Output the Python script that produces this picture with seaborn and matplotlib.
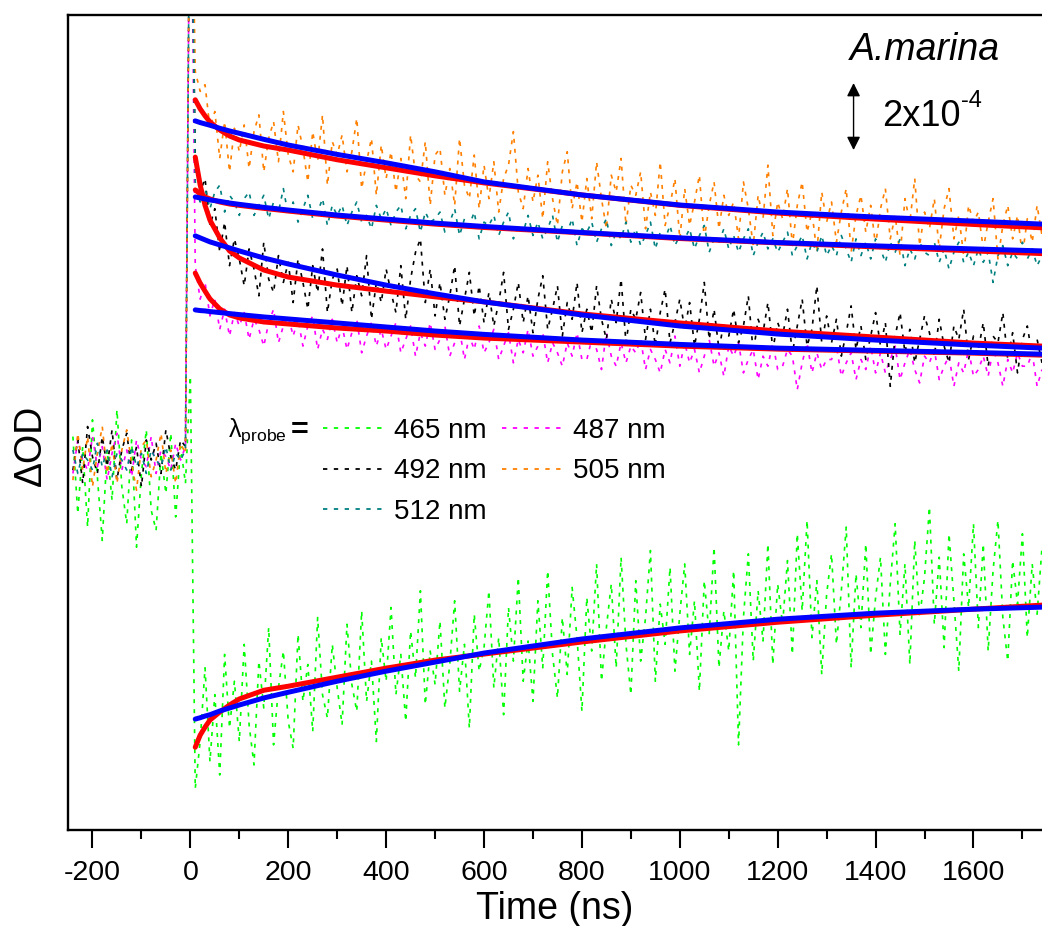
import numpy as np
import pandas as pd
import matplotlib
matplotlib.use("Agg")
import matplotlib.pyplot as plt
from matplotlib.lines import Line2D
from matplotlib.ticker import MultipleLocator
import seaborn as sns

# ---------------- data (ΔOD in units of 1e-5) ----------------
t_pre = np.arange(-240, 1, 10)     # pre-trigger baseline, last point = t 0 (excitation artefact)
t_post = np.arange(10, 1741, 10)   # decay traces
t_fit = [10, 20, 30, 40, 60, 80, 100, 150, 200, 300, 400, 500, 600, 800, 1000, 1200, 1400, 1600, 1740]

colors = {"465 nm": "#00FF00", "487 nm": "#FF00FF", "492 nm": "#000000",
          "505 nm": "#FF8000", "512 nm": "#008080"}

pre_465 = [7, -16, 4, -20, 12, -5, -24, 3, -12, 15, -8, -19, 6, -26, -4, 9, -15, -21, 2, -10, 8, -17, 4, -7, 25]
pre_487 = [-4, 6, 0, -3, 7, -2, 4, -6, 2, 8, -3, 3, -5, 6, 0, -2, 7, -4, 3, 1, -3, 5, 0, 4, 200]
pre_492 = [-3, 6, -7, 10, 1, -4, 7, -2, 9, -6, 3, 8, -3, 4, -8, 6, 0, 5, -4, 9, 1, -3, 6, 4, 200]
pre_505 = [-6, 8, -3, 7, -8, 2, 10, -4, 5, -7, 3, 9, -1, -9, 4, 6, -5, 0, 8, -4, 3, -7, 5, 2, 200]
pre_512 = [3, -4, 2, 0, -3, 5, -2, 3, -5, 2, 0, -3, 4, -2, 2, -4, 3, 0, -2, 4, -3, 2, 0, 3, 200]

post_465 = [-98, -84, -62, -90, -70, -94, -58, -80, -66, -84,
            -55, -79, -91, -60, -74, -50, -85, -68, -57, -78,
            -86, -52, -72, -61, -81, -47, -70, -77, -55, -68,
            -79, -49, -67, -75, -45, -72, -60, -84, -53, -66,
            -44, -70, -58, -78, -51, -65, -39, -73, -57, -67,
            -48, -74, -61, -42, -69, -55, -80, -46, -63, -56,
            -39, -68, -53, -76, -44, -60, -35, -66, -54, -72,
            -42, -62, -33, -58, -71, -47, -64, -38, -53, -75,
            -41, -57, -31, -66, -50, -37, -62, -29, -55, -70,
            -36, -60, -47, -27, -66, -43, -55, -32, -63, -46,
            -31, -58, -42, -69, -36, -52, -26, -62, -45, -57,
            -33, -85, -47, -28, -60, -39, -54, -25, -61, -37,
            -49, -30, -58, -22, -45, -18, -53, -36, -64, -40,
            -28, -55, -39, -20, -62, -34, -50, -25, -58, -41,
            -29, -58, -37, -19, -52, -31, -61, -24, -47, -35,
            -14, -49, -29, -56, -22, -42, -63, -28, -44, -19,
            -50, -25, -57, -33, -18, -47, -60, -30, -43, -22,
            -53, -31, -46, -26]
post_487 = [58, 48, 53, 43, 48, 39, 45, 37, 44, 40,
            44, 36, 42, 39, 34, 41, 45, 35, 40, 43,
            37, 42, 34, 40, 43, 33, 39, 36, 42, 35,
            40, 33, 38, 42, 32, 37, 41, 34, 39, 33,
            37, 41, 32, 36, 40, 31, 38, 34, 41, 33,
            36, 40, 31, 35, 39, 30, 37, 33, 40, 32,
            35, 39, 30, 34, 38, 29, 36, 32, 39, 31,
            34, 38, 29, 35, 32, 28, 35, 31, 38, 30,
            30, 36, 33, 27, 38, 31, 28, 35, 29, 34,
            32, 36, 27, 33, 30, 26, 33, 29, 37, 28,
            35, 29, 33, 26, 31, 36, 28, 32, 25, 34,
            31, 35, 26, 30, 33, 24, 31, 28, 35, 27,
            28, 33, 31, 21, 29, 35, 26, 32, 27, 30,
            30, 34, 25, 29, 32, 24, 30, 27, 34, 26,
            32, 26, 30, 34, 24, 29, 33, 27, 23, 31,
            29, 33, 24, 28, 31, 22, 29, 26, 33, 25,
            27, 31, 25, 33, 29, 22, 30, 26, 32, 28,
            28, 32, 22, 27]
post_492 = [90, 80, 84, 70, 75, 62, 71, 58, 66, 60,
            52, 63, 57, 49, 65, 54, 50, 61, 53, 59,
            47, 60, 53, 45, 58, 50, 63, 44, 54, 57,
            46, 58, 44, 55, 49, 61, 42, 53, 47, 57,
            50, 44, 58, 42, 54, 62, 66, 47, 57, 43,
            53, 42, 49, 58, 40, 48, 56, 43, 52, 41,
            50, 40, 47, 56, 39, 45, 53, 41, 49, 38,
            48, 55, 39, 45, 52, 37, 47, 42, 53, 38,
            45, 38, 52, 42, 36, 48, 41, 54, 35, 45,
            42, 50, 36, 45, 34, 44, 51, 35, 41, 48,
            39, 47, 34, 42, 53, 36, 45, 33, 41, 37,
            45, 35, 40, 49, 32, 42, 38, 47, 33, 41,
            37, 45, 32, 40, 48, 34, 39, 52, 35, 43,
            35, 42, 31, 38, 46, 33, 40, 30, 37, 44,
            34, 41, 22, 37, 44, 32, 39, 29, 36, 43,
            38, 31, 42, 34, 29, 40, 36, 45, 30, 37,
            33, 41, 28, 37, 35, 44, 30, 38, 26, 36,
            40, 31, 36, 29]
post_505 = [116, 110, 112, 99, 104, 90, 101, 86, 99, 92,
            100, 87, 98, 103, 86, 96, 101, 89, 104, 91,
            86, 100, 93, 83, 98, 89, 103, 82, 95, 91,
            97, 86, 92, 102, 81, 89, 96, 79, 94, 84,
            92, 80, 90, 78, 97, 85, 83, 95, 76, 91,
            93, 79, 87, 76, 96, 82, 78, 91, 75, 88,
            78, 89, 74, 84, 88, 98, 80, 75, 87, 77,
            85, 72, 89, 78, 70, 86, 92, 75, 83, 71,
            84, 72, 89, 78, 69, 85, 80, 90, 70, 82,
            79, 86, 69, 80, 73, 89, 70, 76, 84, 66,
            81, 70, 77, 85, 66, 76, 83, 69, 79, 73,
            77, 66, 83, 75, 64, 79, 72, 88, 67, 77,
            72, 81, 64, 76, 83, 68, 74, 62, 80, 71,
            77, 65, 74, 81, 62, 73, 79, 68, 76, 64,
            75, 81, 66, 73, 61, 78, 71, 84, 64, 74,
            69, 78, 63, 75, 81, 66, 73, 61, 76, 71,
            74, 63, 71, 78, 60, 70, 76, 66, 73, 61,
            72, 65, 76, 67]
post_512 = [83, 77, 81, 75, 80, 82, 74, 79, 77, 73,
            78, 80, 73, 76, 79, 72, 77, 74, 81, 73,
            77, 71, 75, 79, 72, 74, 78, 70, 76, 73,
            76, 70, 74, 77, 71, 73, 69, 76, 72, 75,
            70, 74, 76, 69, 73, 75, 68, 74, 71, 72,
            74, 68, 71, 75, 67, 72, 70, 74, 66, 71,
            70, 73, 67, 71, 74, 66, 70, 68, 73, 67,
            71, 66, 69, 73, 65, 70, 68, 72, 64, 69,
            68, 71, 65, 69, 72, 64, 68, 66, 71, 65,
            69, 64, 67, 71, 63, 68, 66, 70, 64, 67,
            66, 69, 63, 67, 70, 62, 66, 65, 69, 63,
            67, 62, 66, 69, 61, 65, 68, 63, 66, 62,
            65, 68, 61, 64, 67, 60, 65, 62, 67, 61,
            64, 61, 67, 63, 59, 66, 61, 65, 60, 66,
            63, 59, 65, 62, 66, 58, 63, 60, 65, 62,
            61, 65, 59, 63, 57, 62, 65, 59, 62, 58,
            63, 59, 62, 53, 61, 64, 58, 62, 60, 65,
            60, 63, 58, 61]

# fits: red and blue model curves
red_465 = [-85.7, -82.1, -79.7, -77.6, -75.2, -73.1, -71.3, -68.7, -67.5, -64.8, -62.1, -59.7, -57.9, -54.3, -51.0, -48.4, -46.3, -44.5, -43.3]
blue_465 = [-77.3, -76.9, -76.4, -76.0, -74.9, -74.0, -73.1, -71.0, -69.3, -66.0, -63.0, -60.3, -57.6, -53.4, -50.1, -47.5, -45.7, -44.5, -43.9]
red_487 = [55.8, 52.8, 50.4, 48.1, 45.1, 43.3, 42.4, 41.2, 40.6, 39.4, 38.5, 37.3, 36.4, 35.2, 34.0, 33.1, 32.5, 31.9, 31.3]
blue_487 = [44.8, 44.6, 44.5, 44.3, 44.0, 43.7, 43.4, 42.7, 42.1, 40.9, 39.7, 38.5, 37.5, 35.8, 34.5, 33.4, 32.7, 32.1, 31.6]
red_492 = [90.4, 82.1, 76.0, 71.6, 66.3, 62.4, 60.3, 56.7, 54.6, 52.2, 50.4, 48.7, 47.2, 43.6, 40.9, 38.5, 36.7, 34.9, 34.0]
blue_492 = [66.9, 66.3, 65.7, 65.1, 64.2, 63.3, 62.4, 60.3, 58.5, 55.2, 52.2, 49.6, 47.2, 43.3, 40.0, 37.6, 35.8, 34.3, 33.4]
red_505 = [107.5, 104.8, 102.7, 100.9, 98.5, 96.7, 95.5, 93.7, 92.5, 89.6, 87.2, 84.8, 82.7, 79.1, 76.0, 73.7, 71.9, 70.3, 69.3]
blue_505 = [101.2, 100.7, 100.3, 99.9, 99.0, 98.2, 97.5, 95.7, 94.0, 91.2, 88.7, 86.0, 83.0, 79.1, 76.1, 74.0, 72.5, 71.3, 70.4]
red_512 = [80.6, 79.4, 78.5, 77.9, 77.0, 76.4, 76.0, 75.1, 74.3, 72.8, 71.6, 70.4, 69.4, 67.8, 66.1, 64.8, 63.6, 62.4, 61.6]
blue_512 = [78.5, 78.2, 77.9, 77.6, 77.2, 76.7, 76.3, 75.4, 74.6, 73.1, 71.9, 70.7, 69.7, 67.9, 66.3, 64.9, 63.9, 63.0, 62.4]

traces = {"465 nm": pre_465 + post_465, "487 nm": pre_487 + post_487,
          "492 nm": pre_492 + post_492, "505 nm": pre_505 + post_505,
          "512 nm": pre_512 + post_512}
fits_red = [red_465, red_487, red_492, red_505, red_512]
fits_blue = [blue_465, blue_487, blue_492, blue_505, blue_512]

t_all = np.concatenate([t_pre, t_post])
df = pd.concat([pd.DataFrame({"time": t_all, "dOD": v, "probe": k}) for k, v in traces.items()],
               ignore_index=True)

# ---------------- figure ----------------
sns.set_theme(style="white")
plt.rcParams["font.family"] = ["Liberation Sans", "DejaVu Sans"]
plt.rcParams["mathtext.fontset"] = "custom"
plt.rcParams["mathtext.rm"] = "Liberation Sans"
plt.rcParams["mathtext.it"] = "Liberation Sans:italic"
plt.rcParams["axes.unicode_minus"] = False
plt.rcParams["text.color"] = "black"
plt.rcParams["axes.labelcolor"] = "black"
plt.rcParams["xtick.color"] = "black"

W, H = 1042, 926
fig = plt.figure(figsize=(W / 100, H / 100), dpi=100)
ax = fig.add_axes([68 / W, 1 - 830 / H, (W - 68) / W, (830 - 15) / H])

dash = (0, (2.4, 3.6))
for k in ["465 nm", "487 nm", "492 nm", "505 nm", "512 nm"]:
    sub = df[df["probe"] == k]
    sns.lineplot(data=sub, x="time", y="dOD", color=colors[k], linewidth=1.2,
                 linestyle=dash, estimator=None, sort=False, ax=ax, legend=False)

for r in fits_red:
    sns.lineplot(x=t_fit, y=r, color="#FF0000", linewidth=3.6, ax=ax, legend=False)
for b in fits_blue:
    sns.lineplot(x=t_fit, y=b, color="#0000FF", linewidth=3.6, ax=ax, legend=False)

ax.set_xlim(-250, 1740)
ax.set_ylim(-110.4, 132.8)

for s in ["left", "top", "bottom"]:
    ax.spines[s].set_visible(True)
    ax.spines[s].set_linewidth(1.7)
    ax.spines[s].set_color("black")
ax.spines["right"].set_visible(False)

ax.xaxis.set_major_locator(MultipleLocator(200))
ax.xaxis.set_minor_locator(MultipleLocator(100))
ax.tick_params(axis="x", which="major", direction="out", length=13, width=1.5,
               labelsize=20.5, pad=8.5, colors="black", bottom=True)
ax.tick_params(axis="x", which="minor", direction="out", length=6.5, width=1.5, bottom=True)
ax.set_yticks([])

ax.set_xlabel("Time (ns)", fontsize=27, labelpad=4)
ax.set_ylabel("ΔOD", fontsize=27)
ax.yaxis.set_label_coords(-0.02, 0.472)

# legend
order = ["465 nm", "492 nm", "512 nm", "487 nm", "505 nm"]
handles = [Line2D([], [], color=colors[k], linewidth=1.3, linestyle=dash) for k in order]
ax.legend(handles, order, ncol=2, loc="upper left", bbox_to_anchor=(0.262, 0.506),
          frameon=False, fontsize=20, handlelength=2.25, handletextpad=0.3,
          columnspacing=0.55, labelspacing=0.53, borderpad=0, borderaxespad=0)
ax.text(0.164, 0.489, r"$\mathregular{λ_{probe}}$", transform=ax.transAxes,
        fontsize=18, ha="left", va="center")
ax.text(0.229, 0.489, "=", transform=ax.transAxes, fontsize=22, fontweight="bold",
        ha="left", va="center")

# species label and scale bar (2x10^-4 = 20 units)
ax.text(0.880, 0.957, "A.marina", transform=ax.transAxes, fontsize=27,
        fontstyle="italic", ha="center", va="center")
ax.annotate("", xy=(1355, 112.5), xytext=(1355, 92.5),
            arrowprops=dict(arrowstyle="<|-|>", color="black", lw=1.0,
                            mutation_scale=20, shrinkA=0, shrinkB=0))
ax.text(0.836, 0.875, "2x10", transform=ax.transAxes,
        fontsize=26, ha="left", va="center")
ax.text(0.917, 0.895, "-4", transform=ax.transAxes,
        fontsize=17, ha="left", va="center")

fig.savefig("out.png", dpi=100)
